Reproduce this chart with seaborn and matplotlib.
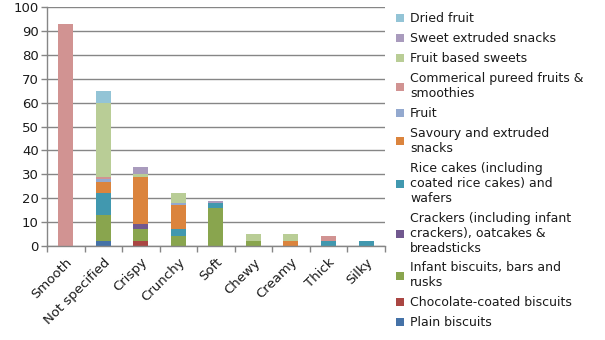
import numpy as np
import pandas as pd
import matplotlib
matplotlib.use("Agg")
import matplotlib.pyplot as plt
from matplotlib.patches import Patch
import seaborn as sns

textures = ["Smooth", "Not specified", "Crispy", "Crunchy", "Soft", "Chewy", "Creamy", "Thick", "Silky"]

# series listed top of legend -> bottom (stack bottom is the last one)
series = [
    "Dried fruit",
    "Sweet extruded snacks",
    "Fruit based sweets",
    "Commerical pureed fruits & smoothies",
    "Fruit",
    "Savoury and extruded snacks",
    "Rice cakes (including coated rice cakes) and wafers",
    "Crackers (including infant crackers), oatcakes & breadsticks",
    "Infant biscuits, bars and rusks",
    "Chocolate-coated biscuits",
    "Plain biscuits",
]
legend_labels = [
    "Dried fruit",
    "Sweet extruded snacks",
    "Fruit based sweets",
    "Commerical pureed fruits &\nsmoothies",
    "Fruit",
    "Savoury and extruded\nsnacks",
    "Rice cakes (including\ncoated rice cakes) and\nwafers",
    "Crackers (including infant\ncrackers), oatcakes &\nbreadsticks",
    "Infant biscuits, bars and\nrusks",
    "Chocolate-coated biscuits",
    "Plain biscuits",
]

#                Smooth NotSp Crispy Crunchy Soft Chewy Creamy Thick Silky
dried_fruit     = [0,  5, 0, 0, 0, 0, 0, 0, 0]
sweet_extruded  = [0,  0, 3, 0, 1, 0, 0, 0, 0]
fruit_sweets    = [0, 31, 1, 4, 0, 3, 3, 0, 0]
pureed          = [93, 1, 0, 0, 0, 0, 0, 2, 0]
fruit           = [0,  1, 0, 1, 0, 0, 0, 0, 0]
savoury         = [0,  5, 20, 10, 0, 0, 2, 0, 0]
rice_cakes      = [0,  9, 0, 3, 2, 0, 0, 2, 2]
crackers        = [0,  0, 2, 0, 0, 0, 0, 0, 0]
infant_biscuits = [0, 11, 5, 4, 16, 2, 0, 0, 0]
choc_biscuits   = [0,  0, 2, 0, 0, 0, 0, 0, 0]
plain_biscuits  = [0,  2, 0, 0, 0, 0, 0, 0, 0]

values = [dried_fruit, sweet_extruded, fruit_sweets, pureed, fruit, savoury,
          rice_cakes, crackers, infant_biscuits, choc_biscuits, plain_biscuits]

colors = ["#93C4D6", "#A99BBD", "#B9CD96", "#D19392", "#93A9CF", "#DB843D",
          "#4198AF", "#71588F", "#89A54E", "#AA4643", "#4572A7"]

rows = []
for i, t in enumerate(textures):
    for s, v in zip(series, values):
        rows.append({"pos": float(i), "type": s, "n": float(v[i])})
df = pd.DataFrame(rows)

sns.set_style("white")
plt.rcParams["font.family"] = ["DejaVu Sans"]

fig = plt.figure(figsize=(6.05, 3.40), dpi=100)
ax = fig.add_axes([0.0777, 0.2765, 0.636 - 0.0777, 0.979 - 0.2765])

sns.histplot(data=df, x="pos", weights="n", hue="type", hue_order=series,
             multiple="stack", discrete=True, shrink=0.4, palette=colors,
             alpha=1, linewidth=0, legend=False, ax=ax)

ax.set_xlim(-0.5, len(textures) - 0.5)
ax.set_ylim(0, 100)
ax.set_yticks(np.arange(0, 101, 10))
ax.yaxis.grid(True, color="#868686", linewidth=1)
ax.set_axisbelow(True)
ax.set_xticks(range(len(textures)))
ax.set_xticklabels(textures, rotation=45, ha="right", rotation_mode="anchor", fontsize=9.5,
                   color="#1a1a1a")
ax.set_xticks(np.arange(-0.5, len(textures), 1), minor=True)
ax.tick_params(axis="x", which="major", length=0, pad=7)
ax.tick_params(axis="x", which="minor", length=4, color="#868686", width=1, direction="out", bottom=True)
ax.tick_params(axis="y", length=4, color="#868686", width=1, direction="out", left=True,
               labelsize=9.5, pad=2, labelcolor="#1a1a1a")
ax.set_xlabel("")
ax.set_ylabel("")
for side in ["top", "right"]:
    ax.spines[side].set_visible(False)
for side in ["left", "bottom"]:
    ax.spines[side].set_color("#868686")
    ax.spines[side].set_linewidth(1)

handles = [Patch(facecolor=c, edgecolor="none") for c in colors]
fig.legend(handles, legend_labels, loc="upper left", bbox_to_anchor=(0.647, 0.978),
           frameon=False, fontsize=9, handlelength=0.6, handleheight=0.6,
           handletextpad=0.5, labelspacing=0.55, borderaxespad=0, labelcolor="#1a1a1a")

fig.savefig("out.png", dpi=100)
